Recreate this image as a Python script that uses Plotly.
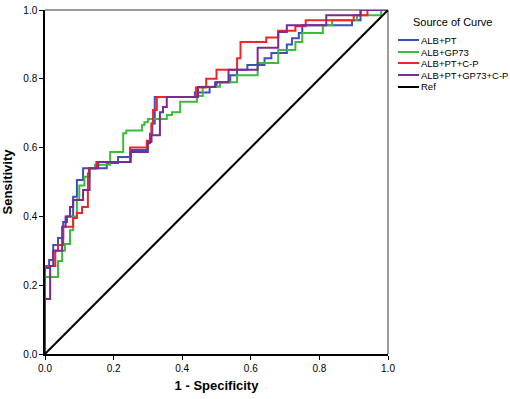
import plotly.graph_objects as go

# ROC curve step points: (1 - specificity, sensitivity) where each curve rises
alb_pt_fpr = [0, 0, 0.012, 0.024, 0.038, 0.053, 0.064, 0.082, 0.093, 0.111, 0.18, 0.213, 0.25, 0.297, 0.306, 0.313, 0.32, 0.437, 0.48, 0.50, 0.54, 0.56, 0.59, 0.64, 0.66, 0.705, 0.72, 0.74, 0.75, 0.895, 0.92, 1.0]
alb_pt_tpr = [0, 0.25, 0.273, 0.317, 0.337, 0.384, 0.40, 0.457, 0.506, 0.54, 0.555, 0.573, 0.593, 0.613, 0.64, 0.67, 0.747, 0.76, 0.776, 0.79, 0.81, 0.826, 0.84, 0.86, 0.875, 0.90, 0.918, 0.933, 0.956, 0.97, 1.0, 1.0]

alb_gp73_fpr = [0, 0, 0.038, 0.05, 0.058, 0.073, 0.082, 0.093, 0.10, 0.115, 0.13, 0.146, 0.19, 0.228, 0.237, 0.283, 0.29, 0.30, 0.355, 0.37, 0.394, 0.443, 0.46, 0.51, 0.56, 0.62, 0.68, 0.73, 0.75, 0.81, 0.837, 0.91, 0.98, 1.0]
alb_gp73_tpr = [0, 0.224, 0.27, 0.30, 0.32, 0.36, 0.40, 0.45, 0.49, 0.515, 0.54, 0.55, 0.587, 0.642, 0.65, 0.666, 0.674, 0.683, 0.695, 0.703, 0.733, 0.75, 0.777, 0.79, 0.81, 0.846, 0.884, 0.907, 0.933, 0.956, 0.97, 0.985, 1.0, 1.0]

alb_pt_cp_fpr = [0, 0, 0.03, 0.038, 0.053, 0.082, 0.093, 0.108, 0.125, 0.128, 0.15, 0.248, 0.297, 0.31, 0.315, 0.326, 0.44, 0.47, 0.50, 0.56, 0.57, 0.645, 0.68, 0.73, 0.76, 0.90, 0.94, 1.0]
alb_pt_cp_tpr = [0, 0.256, 0.30, 0.317, 0.37, 0.395, 0.41, 0.427, 0.525, 0.54, 0.558, 0.60, 0.62, 0.67, 0.709, 0.747, 0.775, 0.80, 0.826, 0.86, 0.907, 0.92, 0.94, 0.953, 0.97, 0.985, 1.0, 1.0]

alb_all_fpr = [0, 0, 0.015, 0.024, 0.05, 0.06, 0.073, 0.082, 0.111, 0.13, 0.155, 0.25, 0.30, 0.31, 0.335, 0.344, 0.355, 0.446, 0.496, 0.535, 0.62, 0.68, 0.705, 0.82, 0.92, 1.0]
alb_all_tpr = [0, 0.16, 0.256, 0.30, 0.37, 0.40, 0.427, 0.448, 0.477, 0.54, 0.558, 0.587, 0.616, 0.636, 0.703, 0.718, 0.747, 0.776, 0.79, 0.826, 0.89, 0.936, 0.956, 0.985, 1.0, 1.0]

ref_x = [0, 1]
ref_y = [0, 1]

series_names = ["ALB+PT", "ALB+GP73", "ALB+PT+C-P", "ALB+PT+GP73+C-P", "Ref"]
series_colors = ["#3a4fc0", "#3cbb3c", "#f02626", "#7b2a8e", "#000000"]
series_x = [alb_pt_fpr, alb_gp73_fpr, alb_pt_cp_fpr, alb_all_fpr, ref_x]
series_y = [alb_pt_tpr, alb_gp73_tpr, alb_pt_cp_tpr, alb_all_tpr, ref_y]

tick_vals = [0.0, 0.2, 0.4, 0.6, 0.8, 1.0]
tick_text = ["0.0", "0.2", "0.4", "0.6", "0.8", "1.0"]

FONT = "Liberation Sans, Arial, sans-serif"

fig = go.Figure()
for name, color, xs, ys in zip(series_names, series_colors, series_x, series_y):
    fig.add_trace(go.Scatter(
        x=xs, y=ys, mode="lines", name=name,
        line=dict(color=color, width=2, shape="linear" if name == "Ref" else "hv"),
        showlegend=False, hoverinfo="skip",
    ))

W, H = 510, 399
L, R, T, B = 45, 510 - 388, 10, 399 - 354
pw, ph = W - L - R, H - T - B

def px2x(px):
    return (px - L) / pw

def py2y(py):
    return (H - B - py) / ph

# gray top and right frame lines
fig.add_shape(type="line", xref="paper", yref="paper", x0=0, x1=1, y0=1, y1=1,
              line=dict(color="#7a7a7a", width=1.5), layer="below")
fig.add_shape(type="line", xref="paper", yref="paper", x0=1, x1=1, y0=0, y1=1,
              line=dict(color="#7a7a7a", width=1.5), layer="below")

# manual compact legend (SPSS-like)
fig.add_annotation(x=px2x(452), y=py2y(22), xref="paper", yref="paper",
                   text="Source of Curve", showarrow=False,
                   font=dict(family=FONT, size=11, color="black"),
                   xanchor="center", yanchor="middle")
rows = [40, 52, 63, 75, 87]
for name, color, ry in zip(series_names, series_colors, rows):
    fig.add_shape(type="line", xref="paper", yref="paper",
                  x0=px2x(398), x1=px2x(419), y0=py2y(ry), y1=py2y(ry),
                  line=dict(color=color, width=2))
    fig.add_annotation(x=px2x(419), y=py2y(ry), xref="paper", yref="paper",
                       text=name, showarrow=False,
                       font=dict(family=FONT, size=9.5, color="black"),
                       xanchor="left", yanchor="middle")

axis_common = dict(
    range=[0, 1], tickvals=tick_vals, ticktext=tick_text,
    showgrid=False, zeroline=False,
    showline=True, linecolor="black", linewidth=1.5, mirror=False,
    ticks="outside", ticklen=4, tickwidth=1, tickcolor="black",
    tickfont=dict(family=FONT, size=10, color="black"),
    ticklabeloverflow="allow",
)
fig.update_xaxes(**axis_common,
                 title=dict(text="<b>1 - Specificity</b>", standoff=8,
                            font=dict(family=FONT, size=13, color="black")))
fig.update_yaxes(**axis_common,
                 title=dict(text="<b>Sensitivity</b>", standoff=8,
                            font=dict(family=FONT, size=13, color="black")))

fig.update_layout(
    width=W, height=H,
    margin=dict(l=L, r=R, t=T, b=B, autoexpand=False),
    plot_bgcolor="white", paper_bgcolor="white",
    showlegend=False, hovermode=False,
)
# remove the default page margin so the 510x399 figure fills the window exactly
fig.write_html("out.html",
               config={"displayModeBar": False},
               post_script="document.body.style.margin='0';document.body.style.overflow='hidden';")
